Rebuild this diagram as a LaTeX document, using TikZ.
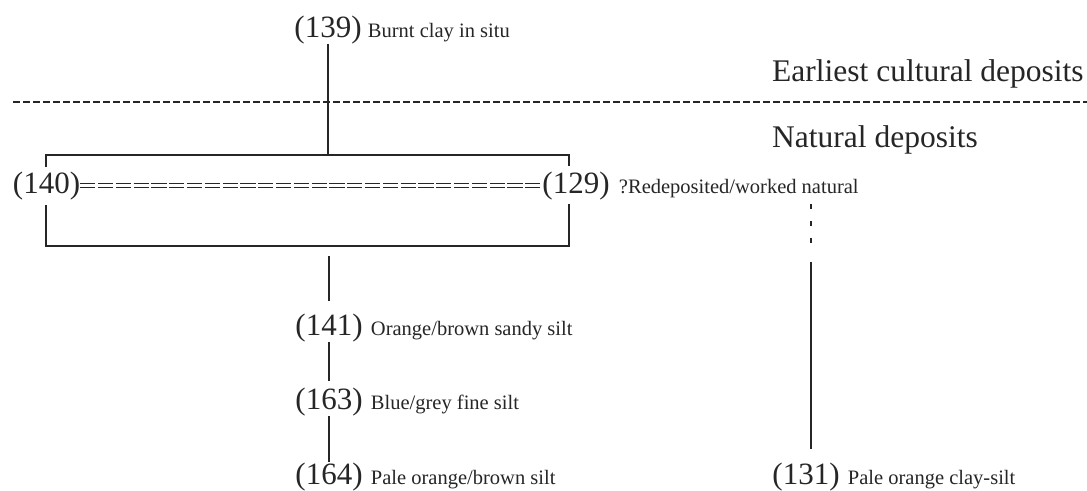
\documentclass[tikz,border=0pt]{standalone}
\usepackage{fontspec}
\setmainfont{Liberation Serif}
\definecolor{ink}{RGB}{38,38,38}
\tikzset{
  num/.style={inner sep=0pt, anchor=base, font=\fontsize{31}{31}\selectfont, text=ink},
  lab/.style={inner sep=0pt, anchor=base west, font=\fontsize{20.5}{20.5}\selectfont, text=ink},
  head/.style={inner sep=0pt, anchor=base west, font=\fontsize{31.5}{31.5}\selectfont, text=ink},
  link/.style={draw=ink, line width=1.7pt},
  eqlink/.style={draw=ink, line width=1.4pt, double=white, double distance=3pt, dash pattern=on 15.2pt off 2.6pt},
  divider/.style={draw=ink, line width=1.6pt, dash pattern=on 7pt off 3pt},
}
\begin{document}
\begin{tikzpicture}[x=1pt, y=-1pt]
\useasboundingbox[fill=white] (0,0) rectangle (1087,490);

% headings
\node[head] (early) at (772,81) {Earliest cultural deposits};
\node[head] (nat) at (772,147) {Natural deposits};

% divider
\coordinate (dl) at (13,102);
\coordinate (dr) at (1087,102);
\draw[divider] (dl) -- (dr);

% contexts
\node[num] (n139) at (328,37) {(139)};
\node[lab] (l139) at ([xshift=6pt]n139.base east) {Burnt clay in situ};

\node[num] (n140) at (46.5,193) {(140)};
\node[num] (n129) at (576,193) {(129)};
\node[lab] (l129) at ([xshift=9pt]n129.base east) {?Redeposited/worked natural};

\node[num] (n141) at (329,335) {(141)};
\node[lab] (l141) at ([xshift=8pt]n141.base east) {Orange/brown sandy silt};
\node[num] (n163) at (329,409) {(163)};
\node[lab] (l163) at ([xshift=8pt]n163.base east) {Blue/grey fine silt};
\node[num] (n164) at (329,484) {(164)};
\node[lab] (l164) at ([xshift=8pt]n164.base east) {Pale orange/brown silt};

\node[num] (n131) at (806,484) {(131)};
\node[lab] (l131) at ([xshift=8pt]n131.base east) {Pale orange clay-silt};

% bracket box
\coordinate (btl) at (46,155);
\coordinate (btr) at (569,155);
\coordinate (btm) at (328,155);
\coordinate (bbl) at (46,246);
\coordinate (bbr) at (569,246);
\coordinate (bbm) at (329,246);
\draw[link] (46,167) -- (btl) -- (btr) -- (569,166);
\draw[link] (46,205) -- (bbl) -- (bbr) -- (569,204);

% equivalence
\draw[eqlink] (n140.east) -- (n129.west);

% sequence
\draw[link] (n139) -- (btm);
\draw[link, shorten <=10pt, shorten >=12pt] (bbm) -- (n141);
\draw[link, shorten >=6pt] (n141) -- (n163);
\draw[link] (n163) -- (n164);

% right branch
\coordinate (d1) at (811,204);
\coordinate (d2) at (811,245);
\coordinate (s1) at (811,262);
\draw[link, dash pattern=on 5pt off 12pt] (d1) -- (d2);
\draw[link, shorten >=13pt] (s1) -- (s1 |- n131.north);
\end{tikzpicture}
\end{document}
